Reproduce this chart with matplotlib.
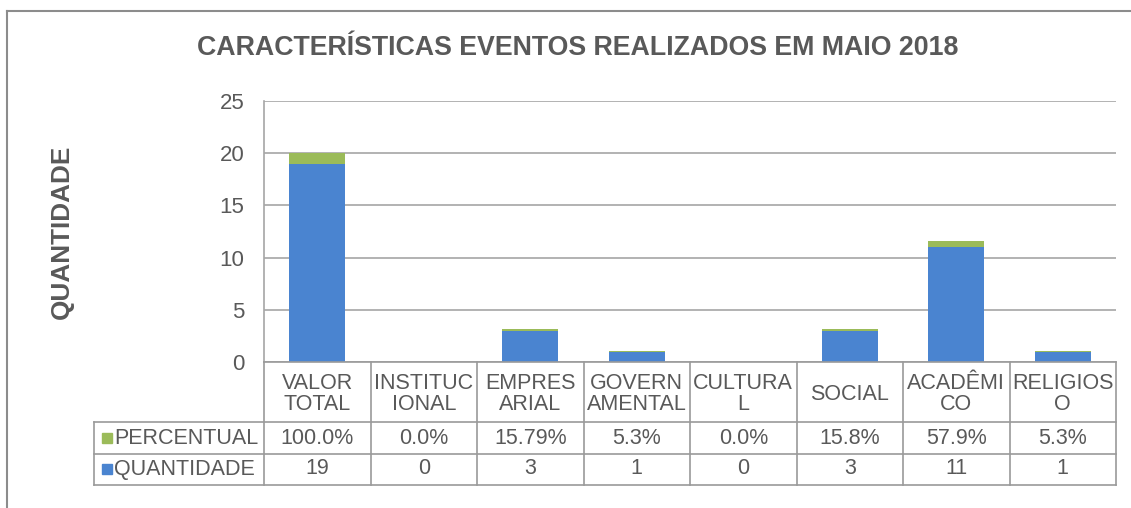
import matplotlib
matplotlib.use("Agg")
import matplotlib.pyplot as plt
from matplotlib.lines import Line2D
from matplotlib.patches import Rectangle
import matplotlib.transforms as mtransforms

categories = ["VALOR\nTOTAL", "INSTITUC\nIONAL", "EMPRES\nARIAL", "GOVERN\nAMENTAL",
              "CULTURA\nL", "SOCIAL", "ACADÊMI\nCO", "RELIGIOS\nO"]
quantidade = [19, 0, 3, 1, 0, 3, 11, 1]
percentual = [100.0, 0.0, 15.79, 5.3, 0.0, 15.8, 57.9, 5.3]
percentual_labels = ["100.0%", "0.0%", "15.79%", "5.3%", "0.0%", "15.8%", "57.9%", "5.3%"]
yticks = [0, 5, 10, 15, 20, 25]
title = "CARACTERÍSTICAS EVENTOS REALIZADOS EM MAIO 2018"
ylabel = "QUANTIDADE"

BLUE = "#4a84d0"
GREEN = "#9bbb59"
TXT = "#595959"
GRID = "#a6a6a6"
LINE = "#9a9a9a"
FONT = ["Liberation Sans", "DejaVu Sans"]
plt.rcParams['font.family'] = FONT

W, H = 1131, 508
fig = plt.figure(figsize=(W / 100, H / 100), dpi=100)
fig.patch.set_facecolor("white")

def fx(px):
    return px / W

def fy(py):
    return 1 - py / H

L, R, T, B = 264, 1116, 101, 362
ax = fig.add_axes([fx(L), fy(B), fx(R) - fx(L), fy(T) - fy(B)])

x = list(range(len(categories)))
perc_frac = [p / 100 for p in percentual]
ax.bar(x, quantidade, width=0.53, color=BLUE, zorder=3)
ax.bar(x, perc_frac, bottom=quantidade, width=0.53, color=GREEN, zorder=3)

ax.set_xlim(-0.5, len(categories) - 0.5)
ax.set_ylim(0, 25)
ax.set_yticks(yticks)
ax.set_xticks([])
ax.yaxis.grid(True, color=GRID, lw=1.2, zorder=0)
ax.set_axisbelow(True)
for s in ["top", "right", "bottom"]:
    ax.spines[s].set_visible(False)
ax.spines["left"].set_color(GRID)
ax.spines["left"].set_linewidth(1.2)
ax.tick_params(axis="y", length=0, pad=14, labelsize=16, labelcolor=TXT)

fig.text(fx(578), fy(48), title, ha="center", va="center", fontsize=19.3,
         fontweight="bold", color=TXT)
fig.text(fx(62), fy(232), ylabel, ha="center", va="center", rotation=90,
         fontsize=18.8, fontweight="bold", color=TXT)

# table
tr = mtransforms.blended_transform_factory(ax.transData, fig.transFigure)
figtr = fig.transFigure
y_rows = [362, 422, 454, 485]
for py in y_rows[1:]:
    fig.add_artist(Line2D([fx(94), fx(R)], [fy(py), fy(py)], color=LINE, lw=1.2, transform=figtr))
fig.add_artist(Line2D([fx(L), fx(R)], [fy(362), fy(362)], color=LINE, lw=1.2, transform=figtr))
fig.add_artist(Line2D([fx(94), fx(94)], [fy(422), fy(485)], color=LINE, lw=1.2, transform=figtr))
for i in range(len(categories) + 1):
    fig.add_artist(Line2D([i - 0.5, i - 0.5], [fy(362), fy(485)], color=LINE, lw=1.2, transform=tr))

for i, cat in enumerate(categories):
    fig.text(i, fy(394), cat, transform=tr, ha="center", va="center", fontsize=15.5,
             color=TXT, linespacing=1.05)
    fig.text(i, fy(438), percentual_labels[i], transform=tr, ha="center", va="center",
             fontsize=15.5, color=TXT)
    fig.text(i, fy(469), str(quantidade[i]), transform=tr, ha="center", va="center",
             fontsize=15.5, color=TXT)

for py, col, lab in [(438, GREEN, "PERCENTUAL"), (469, BLUE, "QUANTIDADE")]:
    fig.add_artist(Rectangle((fx(102), fy(py + 5)), fx(10), 10 / H, color=col, transform=figtr))
    fig.text(fx(114), fy(py), lab, ha="left", va="center", fontsize=15.5, color=TXT)

# outer border
fig.add_artist(Line2D([fx(7), fx(7)], [fy(11), 0], color="#8c8c8c", lw=1.5, transform=figtr))
fig.add_artist(Line2D([fx(7), 1], [fy(11), fy(11)], color="#8c8c8c", lw=1.5, transform=figtr))

fig.savefig("out.png", dpi=100, facecolor="white")
